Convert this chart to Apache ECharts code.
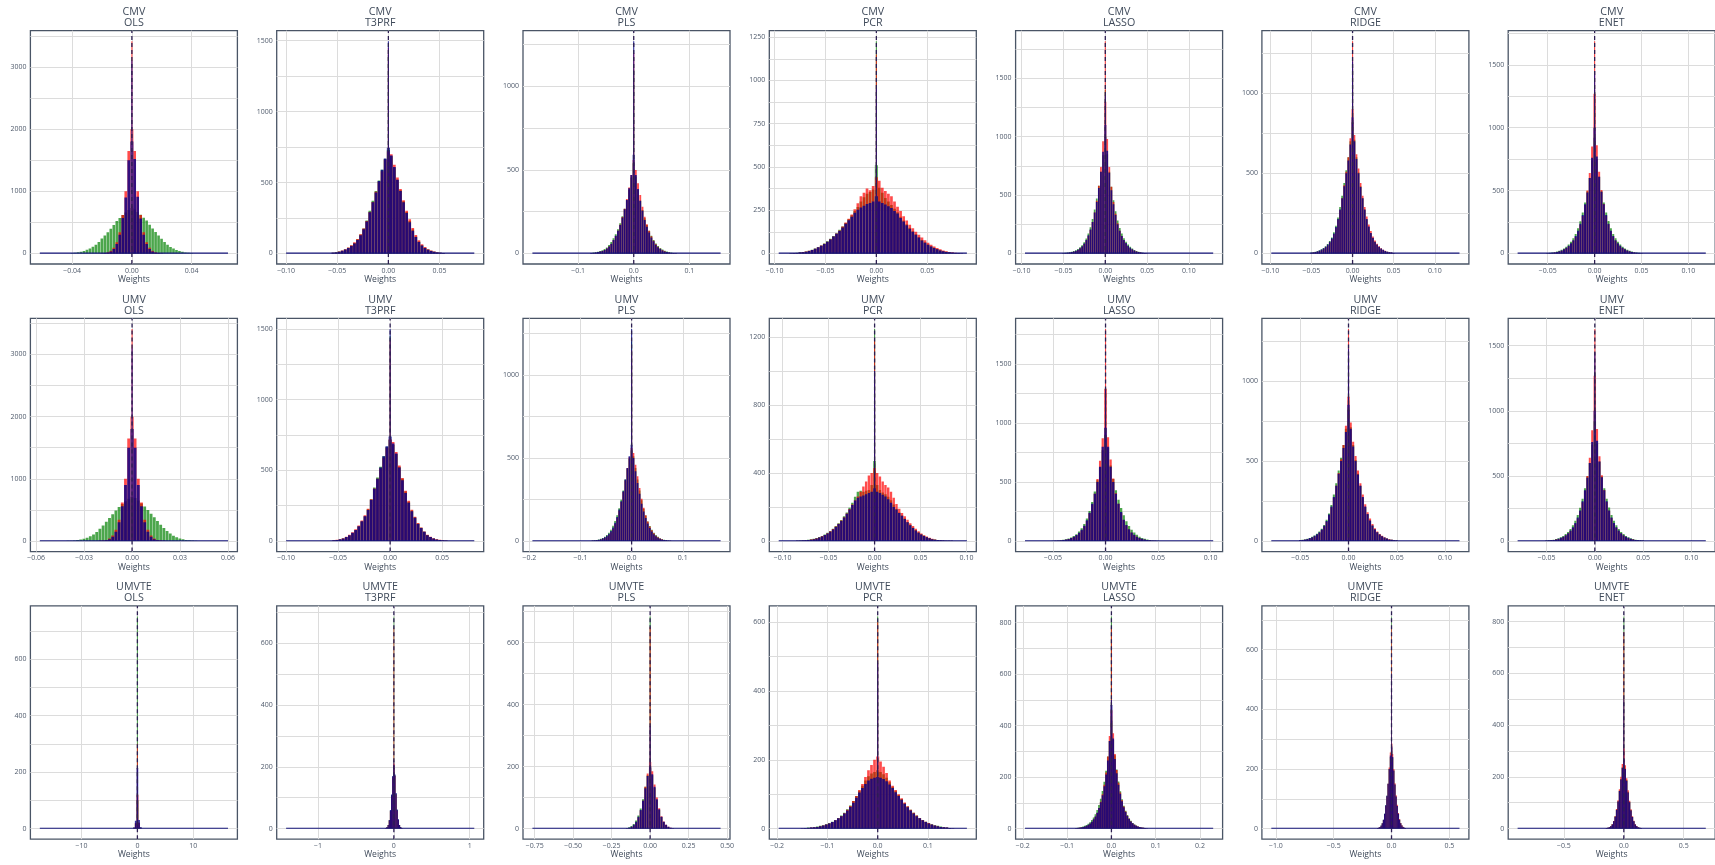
<!DOCTYPE html>
<html><head><meta charset="utf-8">
<script src="https://cdn.jsdelivr.net/npm/echarts@6/dist/echarts.min.js"></script>
<style>html,body{margin:0;padding:0;background:#fff}#c{width:1715px;height:865px}</style>
</head><body><div id="c"></div>
<script>
// ---------------- data ----------------
const ROW_NAMES = ['CMV','UMV','UMVTE'];
const COL_NAMES = ['OLS','T3PRF','PLS','PCR','LASSO','RIDGE','ENET'];
// lo/hi: extent of the weights; bw: bin width; xStep/xDec/yStep: tick labels
// green/red/blue: bin counts (centred on 0); spike: count of the bin at exactly 0 [green, red, blue]
const CMV_OLS = {lo:-0.0617, hi:0.0644, bw:0.002, xStep:0.04, xDec:2, yStep:1000,
 green:[6,10,17,27,40,57,80,106,140,185,238,288,342,398,458,522,568,618,660,700,730,705,665,622,575,528,462,402,345,290,235,185,140,104,78,55,38,26,16,9,5],
 red:[3,8,18,42,90,180,340,620,1000,1650,2000,1650,1000,620,340,180,90,42,18,8,3],
 blue:[2,5,12,30,70,150,300,570,900,1500,1800,1520,910,560,300,150,70,30,12,5,2],
 spike:[760,3414,3100]};
const CMV_T3PRF = {lo:-0.100, hi:0.084, bw:0.003, xStep:0.05, xDec:2, yStep:500,
 green:[5,8,13,19,28,40,55,74,100,133,175,232,300,372,440,515,590,665,730,685,605,520,445,368,292,228,168,120,84,58,40,27,18,12,7,4,2],
 red:[4,7,13,20,30,42,58,78,102,135,175,228,292,362,435,505,580,660,720,700,625,535,455,375,300,240,180,130,92,65,45,30,20,13,8,5,3],
 blue:[4,7,12,18,27,38,52,70,95,128,170,225,290,360,430,510,590,670,745,690,610,520,440,360,285,220,160,115,80,55,38,26,17,11,7,4,2],
 spike:[1400,1450,1496]};
const CMV_PLS = {lo:-0.182, hi:0.156, bw:0.004, xStep:0.1, xDec:1, yStep:500,
 green:[3,5,7,10,14,19,26,36,50,68,90,115,145,180,222,268,318,380,455,540,460,380,315,260,210,170,135,105,80,60,44,32,23,16,11,7,5,3,2],
 red:[1,2,4,7,10,14,20,29,41,57,79,104,135,172,218,268,325,395,470,560,500,420,350,280,220,175,135,102,76,55,40,28,19,13,8,5,3,2,1],
 blue:[2,3,5,8,11,15,21,30,42,58,80,105,135,170,215,265,320,390,470,590,470,385,315,255,200,160,125,95,72,52,37,26,18,12,8,5,3,2,1],
 spike:[1100,1200,1270]};
const CMV_PCR = {lo:-0.096, hi:0.089, bw:0.003, xStep:0.05, xDec:2, yStep:250,
 green:[2,3,4,6,8,11,15,21,28,36,46,57,70,84,100,117,136,155,176,198,220,245,268,300,325,345,355,370,510,380,350,320,300,280,258,238,212,190,168,148,128,110,94,78,64,52,42,33,25,18,13,9,6,4,3,2,1],
 red:[1,2,3,5,8,11,15,20,27,36,45,56,68,82,98,115,133,155,178,200,225,255,290,330,350,375,365,390,440,420,380,360,345,330,300,270,245,215,190,165,145,125,108,92,76,62,50,40,31,24,17,12,8,6,4,2,1],
 blue:[1,2,3,5,7,10,14,19,27,35,44,55,67,80,97,113,130,150,172,192,212,235,252,265,275,285,292,300,330,300,292,283,272,262,245,230,205,185,162,143,125,108,92,75,62,50,40,31,24,17,12,8,6,4,3,2,1],
 spike:[1226,1150,950]};
const CMV_LASSO = {lo:-0.096, hi:0.129, bw:0.0025, xStep:0.05, xDec:2, yStep:500,
 green:[3,5,7,10,14,20,28,38,52,70,95,128,170,225,295,375,470,580,700,840,1000,850,700,570,455,360,282,218,170,130,100,76,57,42,30,21,15,10,6,4,2],
 red:[1,2,4,6,10,14,21,30,42,58,80,110,150,200,268,350,450,580,740,960,1300,980,740,570,440,340,258,195,148,112,84,62,45,33,23,16,11,7,4,3,1],
 blue:[2,3,5,7,11,16,23,32,45,62,85,115,155,205,270,350,440,560,700,870,1100,880,690,540,420,330,250,195,150,115,88,65,48,35,25,17,12,8,5,3,2],
 spike:[1400,1817,1350]};
const CMV_RIDGE = {lo:-0.0988, hi:0.130, bw:0.0025, xStep:0.05, xDec:2, yStep:500,
 green:[5,7,10,14,19,26,34,45,59,77,100,132,172,225,290,360,440,520,600,700,820,710,600,505,420,345,272,212,165,126,96,72,54,40,29,21,15,10,7,5,3],
 red:[3,5,7,10,14,20,28,38,50,68,90,120,160,210,270,345,425,510,600,720,900,740,620,530,440,360,290,230,180,140,106,80,60,44,32,23,16,11,8,5,3],
 blue:[4,6,9,13,18,24,32,42,55,72,95,125,165,215,275,345,420,500,580,680,850,700,590,500,415,345,275,215,168,128,97,73,55,41,30,22,15,10,7,5,3],
 spike:[1150,1325,1200]};
const CMV_ENET = {lo:-0.0821, hi:0.1185, bw:0.0025, xStep:0.05, xDec:2, yStep:500,
 green:[3,5,7,10,15,21,29,39,53,70,92,120,155,200,255,325,405,495,600,740,920,750,610,495,405,325,258,200,155,120,92,70,53,39,29,21,15,10,7,5,3],
 red:[1,2,4,7,11,16,22,31,42,57,76,100,132,172,228,298,385,500,640,850,1270,860,650,505,392,300,232,176,134,101,76,57,42,31,22,16,11,7,4,2,1],
 blue:[2,3,5,8,12,17,24,33,45,60,80,105,138,180,235,305,390,485,600,760,1000,770,610,490,390,305,235,180,138,105,80,60,45,33,24,17,12,8,5,3,2],
 spike:[1300,1687,1450]};

const UMV_OLS = {lo:-0.0577, hi:0.060, bw:0.002, xStep:0.03, xDec:2, yStep:1000,
 green:[3,5,9,15,24,36,52,75,105,145,195,250,310,370,430,490,545,595,640,680,710,690,650,605,555,500,440,380,320,262,210,162,120,86,60,41,27,17,10,6,3],
 red:[3,8,18,42,90,180,340,620,1000,1650,2000,1650,1000,620,340,180,90,42,18,8,3],
 blue:[2,5,12,30,70,150,300,560,900,1500,1800,1500,900,560,300,150,70,30,12,5,2],
 spike:[700,3411,3100]};
const UMV_T3PRF = {lo:-0.100, hi:0.0809, bw:0.003, xStep:0.05, xDec:2, yStep:500,
 green:[4,7,11,17,26,38,55,75,102,138,176,225,295,378,450,525,600,665,715,680,615,525,440,350,278,215,168,124,93,66,42,29,18,11,7,4,2],
 red:[5,8,13,20,30,44,62,84,110,145,182,228,295,372,440,515,590,660,720,700,630,535,445,355,285,222,172,128,96,68,44,30,19,12,8,5,3],
 blue:[4,7,12,18,28,40,58,78,105,140,175,220,290,370,440,520,600,670,740,690,620,520,430,340,270,210,165,120,92,65,40,28,17,11,7,4,2],
 spike:[1450,1420,1501]};
const UMV_PLS = {lo:-0.194, hi:0.174, bw:0.004, xStep:0.1, xDec:1, yStep:500,
 green:[3,4,6,9,13,18,26,36,50,68,92,120,155,198,248,305,370,435,495,545,510,440,370,305,245,195,153,118,90,68,50,36,25,17,11,7,4,3,1],
 red:[1,2,4,6,9,13,19,27,38,53,74,102,138,182,235,295,365,440,505,560,530,460,390,320,255,200,155,118,88,64,46,32,22,15,10,6,4,2,1],
 blue:[2,3,5,8,11,16,23,32,44,60,82,110,145,190,240,300,370,440,510,580,500,420,350,285,225,178,138,105,78,57,41,29,20,14,9,6,4,2,1],
 spike:[1200,1150,1278]};
const UMV_PCR = {lo:-0.1043, hi:0.1004, bw:0.003, xStep:0.05, xDec:2, yStep:400,
 green:[2,3,4,5,7,10,13,18,23,30,38,48,59,72,88,105,124,145,168,195,225,260,290,295,290,295,300,330,470,330,300,285,275,260,240,215,190,168,150,132,112,95,79,64,51,40,31,23,17,12,9,6,4,3,2,1,1],
 red:[1,2,3,4,6,9,12,16,21,28,36,46,57,70,85,102,120,140,162,188,215,240,262,290,320,350,385,400,430,400,380,350,330,315,290,255,218,190,165,145,125,105,88,72,57,44,34,26,19,13,9,6,4,3,2,1,1],
 blue:[1,2,3,4,6,8,11,15,20,27,35,44,55,68,83,100,118,138,160,185,212,238,255,262,268,275,283,290,310,290,282,272,262,245,225,200,185,165,148,130,110,92,76,62,49,38,29,22,16,11,8,6,4,3,2,1,1],
 spike:[1248,1180,1000]};
const UMV_LASSO = {lo:-0.0766, hi:0.1024, bw:0.0025, xStep:0.05, xDec:2, yStep:500,
 green:[2,3,5,7,11,15,21,30,42,58,80,108,145,190,255,330,420,515,625,770,900,790,640,525,430,350,280,218,168,128,96,71,52,37,26,18,12,8,5,3,2],
 red:[1,2,3,5,7,11,16,23,33,46,65,90,125,170,235,310,400,525,680,870,1290,880,690,530,405,315,240,178,132,97,70,50,36,25,17,11,7,5,3,2,1],
 blue:[1,2,3,5,8,12,17,25,36,50,70,95,130,175,240,315,400,500,630,800,960,800,630,500,400,315,245,180,135,100,72,52,37,26,18,12,8,5,3,2,1],
 spike:[1300,1798,1280]};
const UMV_RIDGE = {lo:-0.080, hi:0.115, bw:0.0025, xStep:0.05, xDec:2, yStep:500,
 green:[5,7,10,14,19,26,34,45,59,77,100,132,172,225,290,360,440,520,600,700,820,710,600,505,420,345,272,212,165,126,96,72,54,40,29,21,15,10,7,5,3],
 red:[3,5,7,10,14,20,28,38,50,68,90,120,160,210,270,345,425,510,600,720,900,740,620,530,440,360,290,230,180,140,106,80,60,44,32,23,16,11,8,5,3],
 blue:[4,6,9,13,18,24,32,42,55,72,95,125,165,215,275,345,420,500,580,680,850,700,590,500,415,345,275,215,168,128,97,73,55,41,30,22,15,10,7,5,3],
 spike:[1150,1324,1200]};
const UMV_ENET = {lo:-0.080, hi:0.115, bw:0.0025, xStep:0.05, xDec:2, yStep:500,
 green:[3,5,7,10,15,21,29,39,53,70,92,120,155,200,255,325,405,495,600,740,920,750,610,495,405,325,258,200,155,120,92,70,53,39,29,21,15,10,7,5,3],
 red:[1,2,4,7,11,16,22,31,42,57,76,100,132,172,228,298,385,500,640,850,1270,860,650,505,392,300,232,176,134,101,76,57,42,31,22,16,11,7,4,2,1],
 blue:[2,3,5,8,12,17,24,33,45,60,80,105,138,180,235,305,390,485,600,760,1000,770,610,490,390,305,235,180,138,105,80,60,45,33,24,17,12,8,5,3,2],
 spike:[1300,1629,1450]};

const UMVTE_OLS = {lo:-17.45, hi:16.2, bw:0.3, xStep:10, xDec:0, yStep:200,
 green:[3,18,100,20,3], red:[3,20,120,22,3], blue:[4,28,215,30,5],
 spike:[751,300,215]};
const UMVTE_T3PRF = {lo:-1.42, hi:1.06, bw:0.015, xStep:1, xDec:0, yStep:200,
 green:[2,5,12,27,58,108,168,195,172,112,60,29,12,5,2],
 red:[2,4,11,26,56,105,165,210,170,110,58,28,11,4,2],
 blue:[2,5,12,28,60,110,170,205,175,115,62,30,12,5,2],
 spike:[686,650,220]};
const UMVTE_PLS = {lo:-0.765, hi:0.458, bw:0.015, xStep:0.25, xDec:2, yStep:200,
 green:[2,4,8,15,26,42,65,95,135,172,195,172,132,92,60,37,21,11,5,2,1],
 red:[1,2,5,10,20,36,58,90,135,178,215,185,142,100,66,40,23,12,6,3,1],
 blue:[1,3,6,12,22,38,60,90,130,170,200,175,135,95,62,38,22,12,6,3,1],
 spike:[684,650,330]};
const UMVTE_PCR = {lo:-0.197, hi:0.1775, bw:0.006, xStep:0.1, xDec:1, yStep:200,
 green:[1,2,3,3,4,6,8,10,13,16,20,25,31,38,46,56,67,80,95,110,125,140,152,160,165,170,165,158,148,135,122,110,98,86,74,64,55,46,38,31,25,20,16,13,10,8,6,4,3,2,1],
 red:[1,1,2,3,4,5,7,9,12,15,19,24,30,37,45,55,66,80,95,112,130,150,170,185,200,210,195,180,162,140,125,112,100,88,76,65,55,46,38,31,25,20,16,12,9,7,5,4,3,2,1],
 blue:[1,2,2,3,4,5,7,9,12,15,19,24,30,36,44,53,63,75,90,105,118,130,140,145,148,150,148,144,138,128,118,106,95,84,72,62,53,44,36,30,24,19,15,12,9,7,5,4,3,2,1],
 spike:[617,600,480]};
const UMVTE_LASSO = {lo:-0.195, hi:0.2297, bw:0.004, xStep:0.1, xDec:1, yStep:200,
 green:[2,3,4,6,8,11,14,19,25,33,43,56,72,92,116,146,182,225,280,340,420,345,285,230,183,145,114,89,69,53,40,30,22,16,12,8,6,4,3,2,1],
 red:[1,2,3,4,5,7,10,14,19,26,35,46,61,80,104,133,170,218,280,360,460,370,290,228,178,140,110,86,66,50,38,28,20,15,11,8,5,4,3,2,1],
 blue:[1,2,3,4,6,8,11,15,20,27,36,47,62,80,102,130,165,210,265,340,480,350,270,215,170,135,106,83,64,49,37,28,21,15,11,8,6,4,3,2,1],
 spike:[824,780,500]};
const UMVTE_RIDGE = {lo:-1.04, hi:0.588, bw:0.01, xStep:0.5, xDec:1, yStep:200,
 green:[2,3,5,10,18,30,50,78,110,150,200,240,270,238,195,148,108,76,50,30,18,10,5,3,2],
 red:[2,3,5,9,17,29,48,76,108,150,205,255,285,250,200,152,112,80,52,32,19,11,6,3,2],
 blue:[2,3,5,10,18,30,50,78,110,150,200,245,275,240,195,148,108,76,50,30,18,10,5,3,2],
 spike:[711,680,520]};
const UMVTE_ENET = {lo:-0.886, hi:0.684, bw:0.012, xStep:0.5, xDec:1, yStep:200,
 green:[2,3,5,10,17,29,48,74,106,146,192,236,265,232,188,142,104,72,46,28,16,9,5,3,2],
 red:[2,3,5,9,17,29,48,76,110,152,200,250,310,245,195,148,108,75,48,30,17,10,5,3,2],
 blue:[2,3,5,9,16,28,46,72,105,145,190,235,270,230,185,140,102,70,45,28,16,9,5,3,2],
 spike:[820,760,500]};

const PANELS = [
 [CMV_OLS, CMV_T3PRF, CMV_PLS, CMV_PCR, CMV_LASSO, CMV_RIDGE, CMV_ENET],
 [UMV_OLS, UMV_T3PRF, UMV_PLS, UMV_PCR, UMV_LASSO, UMV_RIDGE, UMV_ENET],
 [UMVTE_OLS, UMVTE_T3PRF, UMVTE_PLS, UMVTE_PCR, UMVTE_LASSO, UMVTE_RIDGE, UMVTE_ENET]
];

// ---------------- styling ----------------
const FONT = '"Open Sans", "DejaVu Sans", sans-serif';
const GREEN = 'rgba(0,128,0,0.7)', RED = 'rgba(255,0,0,0.7)', BLUE = 'rgba(0,0,139,0.8)';
const TXT = '#3f4a5a', TICK = '#4f5a6b', GRIDC = '#dcdcdc';

function ticks(min, max, step) {
  const out = [];
  const k0 = Math.ceil(min / step - 1e-9), k1 = Math.floor(max / step + 1e-9);
  for (let k = k0; k <= k1; k++) out.push(+(k * step).toFixed(10));
  return out;
}
function bins(arr, bw, spike, sw) {
  const n = arr.length, b0 = -bw * n / 2, out = [], ci = (n - 1) / 2;
  for (let i = 0; i < n; i++) {
    const x0 = b0 + i * bw, x1 = x0 + bw, h = arr[i];
    if (i === ci && spike > h) {
      if (h > 0) { out.push([x0, -sw / 2, h]); out.push([sw / 2, x1, h]); }
      out.push([-sw / 2, sw / 2, spike]);
    } else if (h > 0) out.push([x0, x1, h]);
  }
  return out;
}
function rectRender(color) {
  return function (params, api) {
    const a = api.coord([api.value(0), api.value(2)]);
    const b = api.coord([api.value(1), 0]);
    const w = b[0] - a[0];
    const gap = w > 2 ? 0.35 : 0;
    return {type: 'rect', shape: {x: a[0], y: a[1], width: Math.max(w - gap, 0.5), height: b[1] - a[1]},
      style: {fill: color}};
  };
}
function baseRender(params, api) {
  const a = api.coord([api.value(0), 0]), b = api.coord([api.value(1), 0]);
  return {type: 'line', shape: {x1: a[0], y1: a[1] - 0.3, x2: b[0], y2: b[1] - 0.3},
    style: {stroke: '#15157a', lineWidth: 1.1}};
}
function dashRender(params, api) {
  const a = api.coord([api.value(0), api.value(1)]), b = api.coord([api.value(0), api.value(2)]);
  return {type: 'line', shape: {x1: a[0], y1: a[1], x2: b[0], y2: b[1]},
    style: {stroke: '#2c1f52', lineWidth: 1.3, lineDash: [4, 3]}};
}

const grids = [], xAxes = [], yAxes = [], series = [], graphics = [];
const PW = 207, PH = 233.3;
for (let r = 0; r < 3; r++) for (let c = 0; c < 7; c++) {
  const p = PANELS[r][c], gi = r * 7 + c;
  const left = 30.4 + c * 246.3, top = 30.7 + r * 287.6;
  const span = p.hi - p.lo, xmin = p.lo - 0.05 * span, xmax = p.hi + 0.05 * span;
  const M = Math.max(...p.green, ...p.red, ...p.blue, ...p.spike);
  const ymin = -0.05 * M, ymax = 1.05 * M;
  const sw = Math.min(span / 170, p.bw * 0.6);
  grids.push({left: left, top: top, width: PW, height: PH, show: true, borderColor: '#4a5566', borderWidth: 1.3,
    backgroundColor: 'rgba(0,0,0,0)', containLabel: false, outerBoundsMode: 'none'});
  const xt = ticks(xmin, xmax, p.xStep);
  const dec = p.xDec;
  xAxes.push({type: 'value', gridIndex: gi, min: xmin, max: xmax,
    axisLine: {show: false}, axisTick: {show: false, customValues: xt},
    axisLabel: {customValues: xt, fontSize: 7, color: TICK, margin: 3, fontFamily: FONT,
      formatter: v => { const s = Math.abs(v).toFixed(dec); return (v < -1e-12 ? '\u2212' : '') + s; }},
    splitLine: {show: true, lineStyle: {color: GRIDC, width: 1}},
    name: 'Weights', nameLocation: 'middle', nameGap: 11,
    nameTextStyle: {fontSize: 8.6, color: TXT, fontFamily: FONT}});
  const yMaj = ticks(0, ymax, p.yStep), yAll = ticks(0, ymax, p.yStep / 2);
  yAxes.push({type: 'value', gridIndex: gi, min: ymin, max: ymax,
    axisLine: {show: false}, axisTick: {show: false, customValues: yAll},
    axisLabel: {customValues: yMaj, fontSize: 7, color: TICK, margin: 4, fontFamily: FONT,
      formatter: v => String(Math.round(v))},
    splitLine: {show: true, lineStyle: {color: GRIDC, width: 1}}});
  const common = {type: 'custom', xAxisIndex: gi, yAxisIndex: gi, silent: true, animation: false, clip: true,
    encode: {x: [0, 1], y: [2]}};
  series.push(Object.assign({}, common, {name: 'g' + gi, renderItem: rectRender(GREEN), data: bins(p.green, p.bw, p.spike[0], sw)}));
  series.push(Object.assign({}, common, {name: 'r' + gi, renderItem: rectRender(RED), data: bins(p.red, p.bw, p.spike[1], sw)}));
  series.push(Object.assign({}, common, {name: 'b' + gi, renderItem: rectRender(BLUE), data: bins(p.blue, p.bw, p.spike[2], sw)}));
  series.push(Object.assign({}, common, {name: 'base' + gi, renderItem: baseRender, data: [[p.lo, p.hi, 0]]}));
  series.push(Object.assign({}, common, {name: 'zero' + gi, renderItem: dashRender, data: [[0, ymin, ymax]],
    encode: {x: [0], y: [1, 2]}}));
  graphics.push({type: 'text', x: left + PW / 2, y: top - 24, silent: true,
    style: {text: ROW_NAMES[r] + '\n' + COL_NAMES[c], align: 'center', verticalAlign: 'top',
      fontSize: 10.7, lineHeight: 11, fill: TXT, fontFamily: FONT}});
}

const chart = echarts.init(document.getElementById('c'), null, {renderer: 'canvas'});
chart.setOption({animation: false, backgroundColor: '#fff', textStyle: {fontFamily: FONT},
  grid: grids, xAxis: xAxes, yAxis: yAxes, series: series, graphic: graphics});
</script></body></html>
